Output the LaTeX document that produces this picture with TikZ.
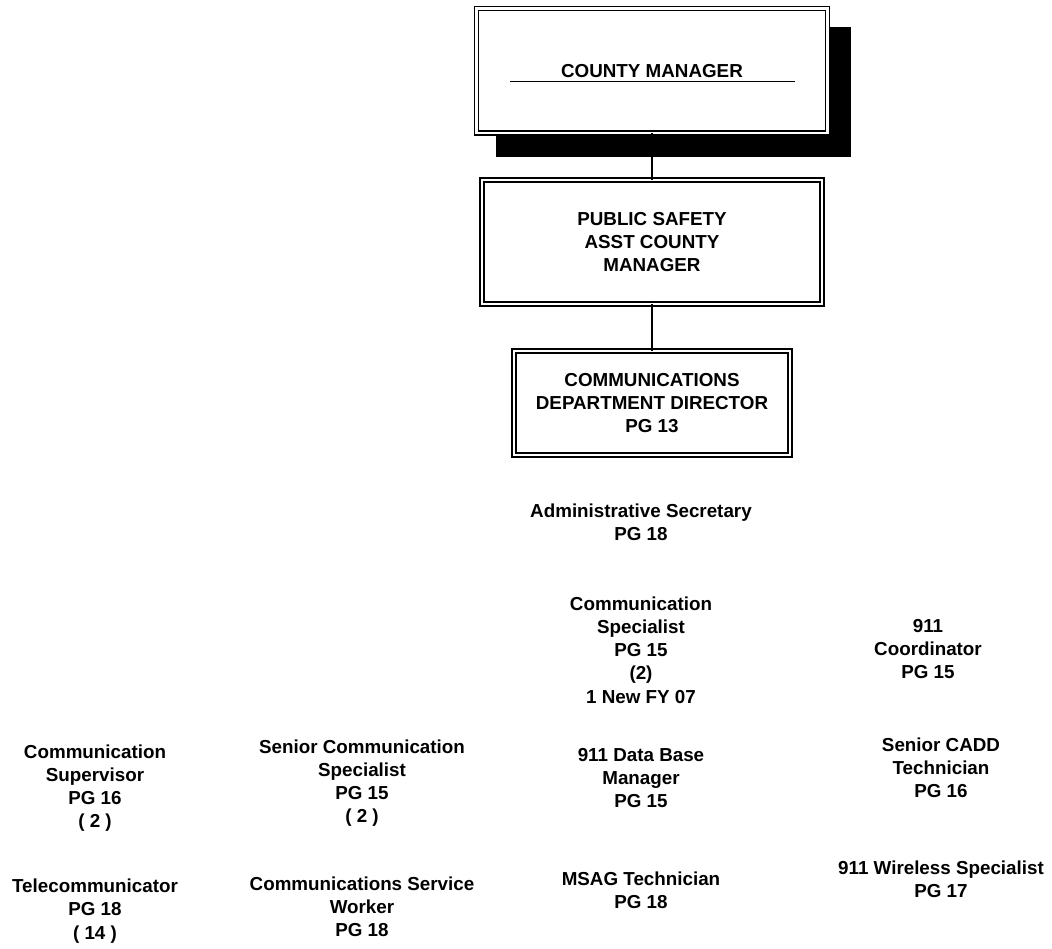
\documentclass[tikz,border=0pt]{standalone}
\usepackage{fontspec}
\setmainfont{Liberation Sans}
\usepackage{tikz}

\begin{document}
\begin{tikzpicture}[x=0.02cm,y=-0.02cm,
    every node/.style={font=\fontsize{10.7}{13.2}\selectfont\bfseries,
      align=center, inner sep=0pt, outer sep=0pt},
    postbox/.style={draw, line width=0.85pt, double, double distance=1.6pt, fill=white},
    link/.style={line width=0.8pt}]
            \useasboundingbox (0,0) rectangle (1052,948);
            % shadow behind the top box
            \fill (496,27) rectangle (851,157);
            \node[postbox, minimum width=7.02cm, minimum height=2.49cm] (cm) at (652,70.75) {COUNTY MANAGER};
            \draw[link] ([shift={(-142,11)}]cm.center) -- ([shift={(143,11)}]cm.center);
            \node[postbox, minimum width=6.8cm, minimum height=2.48cm] (ps) at (652,242) {PUBLIC SAFETY\\ASST COUNTY\\MANAGER};
            \node[postbox, minimum width=5.52cm, minimum height=2.08cm] (dd) at (652,403) {COMMUNICATIONS\\DEPARTMENT DIRECTOR\\PG 13};
            \draw[link] (cm.south) -- (ps.north);
            \draw[link] (ps.south) -- (dd.north);
            % staff positions
            \node (as) at (641,522) {Administrative Secretary\\PG 18};
            \node (cs) at (641,650) {Communication\\Specialist\\PG 15\\(2)\\1 New FY 07};
            \node (co) at (928,649) {911\\Coordinator\\PG 15};
            \node (su) at (95,788) {Communication\\Supervisor\\PG 16\\( 2 )};
            \node (sc) at (362,783) {Senior Communication\\Specialist\\PG 15\\( 2 )};
            \node (db) at (641,778) {911 Data Base\\Manager\\PG 15};
            \node (ca) at (941,768) {Senior CADD\\Technician\\PG 16};
            \node (tc) at (95,911) {Telecommunicator\\PG 18\\( 14 )};
            \node (sw) at (362,907) {Communications Service\\Worker\\PG 18};
            \node (ms) at (641,890.5) {MSAG Technician\\PG 18};
            \node (ws) at (941,879.5) {911 Wireless Specialist\\PG 17};
        \end{tikzpicture}
\end{document}
